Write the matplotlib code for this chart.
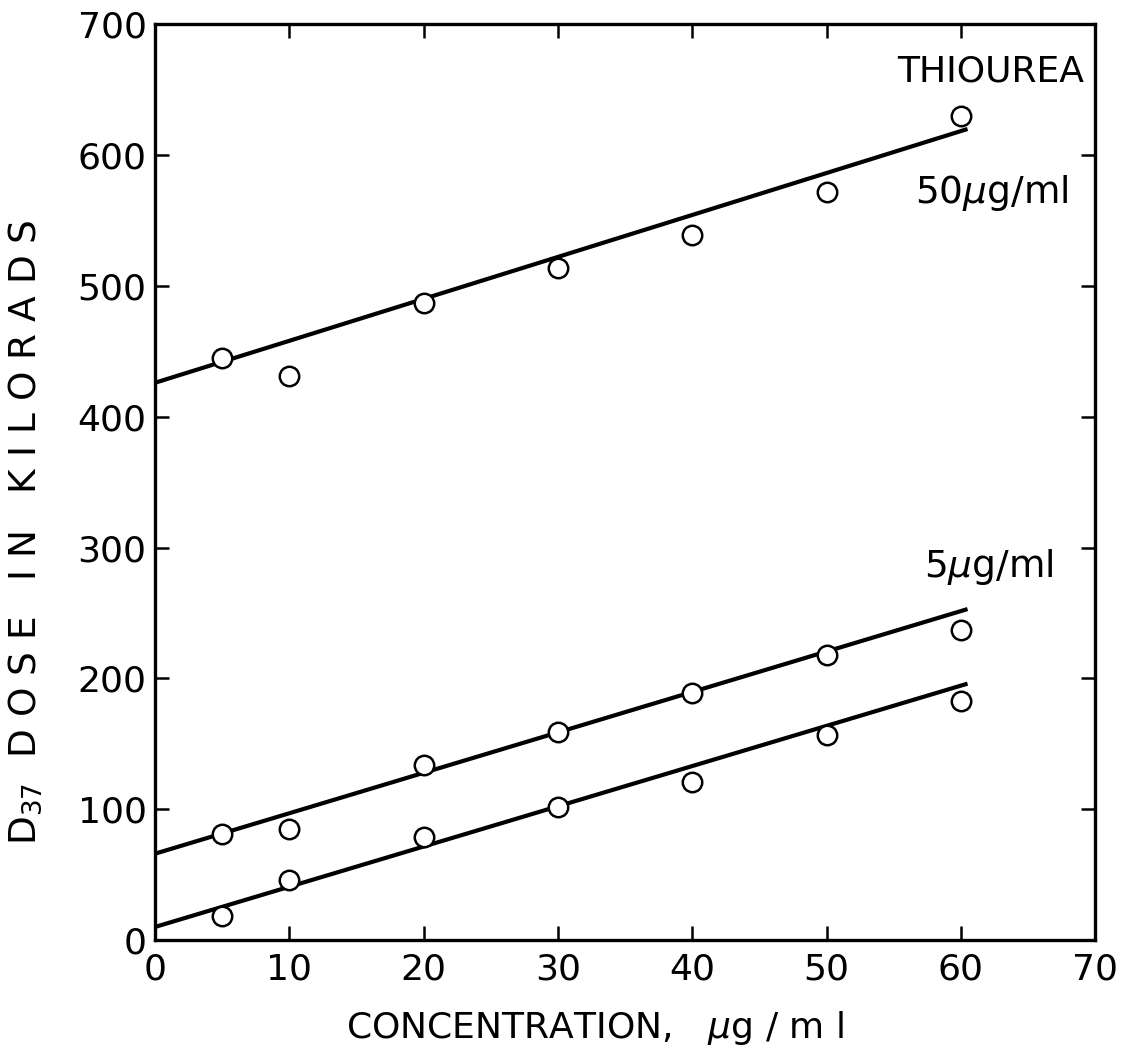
import numpy as np
import matplotlib
matplotlib.use("Agg")
import matplotlib.pyplot as plt

# D37 dose vs concentration, thiourea data
conc = [5, 10, 20, 30, 40, 50, 60]
dose_50 = [445, 431, 487, 514, 539, 572, 630]
dose_5 = [81, 85, 134, 159, 189, 218, 237]
dose_0 = [18, 46, 79, 102, 121, 157, 183]

# fitted lines: values at x = 0 and x = 60.5
fit_x = [0, 60.5]
fit_50 = [426, 620]
fit_5 = [66, 253]
fit_0 = [10, 196]

x_ticks = [0, 10, 20, 30, 40, 50, 60, 70]
y_ticks = [0, 100, 200, 300, 400, 500, 600, 700]

plt.rcParams['font.family'] = ['DejaVu Sans']
plt.rcParams['mathtext.fontset'] = 'dejavusans'

fig = plt.figure(figsize=(11.29, 10.58), dpi=100)
ax = fig.add_axes([0.1373, 0.1115, 0.8327, 0.8655])

for ys in (fit_50, fit_5, fit_0):
    ax.plot(fit_x, ys, color='black', lw=3.0, solid_capstyle='butt', zorder=2)

for ys in (dose_50, dose_5, dose_0):
    ax.plot(conc, ys, linestyle='none', marker='o', ms=14, mfc='white',
            mec='black', mew=1.8, zorder=3)

ax.set_xlim(0, 70)
ax.set_ylim(0, 700)
ax.set_xticks(x_ticks)
ax.set_yticks(y_ticks)
ax.tick_params(direction='in', length=10, width=1.8, labelsize=26,
               top=True, right=True)
ax.tick_params(axis='x', pad=9)
ax.tick_params(axis='y', pad=6)
for sp in ax.spines.values():
    sp.set_linewidth(2.4)

ax.set_xlabel(r'CONCENTRATION,   $\mu$g / m l', fontsize=26)
ax.xaxis.set_label_coords(0.468, -0.075)
# spaced lettering like the original hand lettering
ylab = r'D$_{37}$  D O S E   I N   K I L O R A D S'
ax.set_ylabel(ylab, fontsize=27)
ax.yaxis.set_label_coords(-0.118, 0.445)

ax.text(62.2, 664, 'THIOUREA', fontsize=26, ha='center', va='center')
ax.text(62.3, 571, r'50$\mu$g/ml', fontsize=27, ha='center', va='center')
ax.text(62.1, 285, r'5$\mu$g/ml', fontsize=27, ha='center', va='center')

fig.savefig('out.png', dpi=100, facecolor='white')
